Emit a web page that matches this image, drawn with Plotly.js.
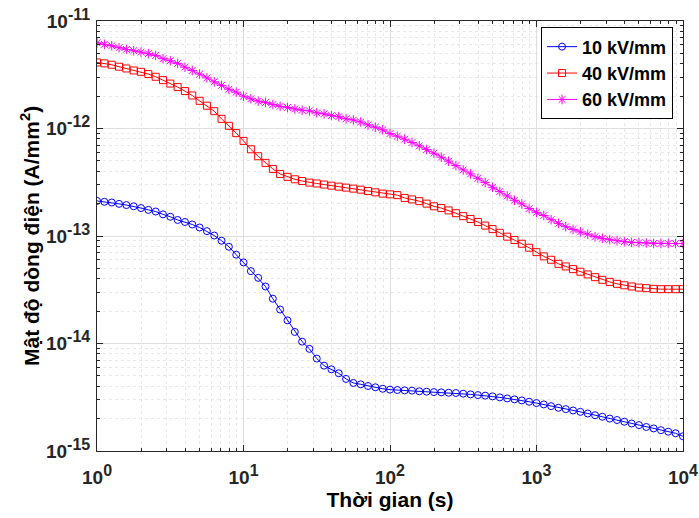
<!DOCTYPE html>
<html>
<head>
<meta charset="utf-8">
<script src="https://cdn.plot.ly/plotly-3.0.1.min.js"></script>
<style>html,body{margin:0;padding:0;background:#fff;}#chart{width:699px;height:518px;}</style>
</head>
<body>
<div id="chart"></div>
<script>
// Time (s), 20 samples per decade
const time = [
  1, 1.122, 1.259, 1.413, 1.585, 1.778, 1.995, 2.239, 2.512, 2.818,
  3.162, 3.548, 3.981, 4.467, 5.012, 5.623, 6.310, 7.079, 7.943, 8.913,
  10, 11.22, 12.59, 14.13, 15.85, 17.78, 19.95, 22.39, 25.12, 28.18,
  31.62, 35.48, 39.81, 44.67, 50.12, 56.23, 63.10, 70.79, 79.43, 89.13,
  100, 112.2, 125.9, 141.3, 158.5, 177.8, 199.5, 223.9, 251.2, 281.8,
  316.2, 354.8, 398.1, 446.7, 501.2, 562.3, 631.0, 707.9, 794.3, 891.3,
  1000, 1122, 1259, 1413, 1585, 1778, 1995, 2239, 2512, 2818,
  3162, 3548, 3981, 4467, 5012, 5623, 6310, 7079, 7943, 8913,
  10000
];

const j10 = [
  2.12e-13, 2.08e-13, 2.05e-13, 1.99e-13, 1.94e-13, 1.89e-13, 1.82e-13, 1.75e-13, 1.69e-13, 1.59e-13,
  1.51e-13, 1.41e-13, 1.35e-13, 1.28e-13, 1.20e-13, 1.11e-13, 1.01e-13, 9.04e-14, 7.94e-14, 6.70e-14,
  5.68e-14, 4.71e-14, 4.08e-14, 3.39e-14, 2.61e-14, 2.07e-14, 1.64e-14, 1.28e-14, 1.04e-14, 8.91e-15,
  7.24e-15, 6.22e-15, 5.75e-15, 5.28e-15, 4.68e-15, 4.29e-15, 4.17e-15, 4.02e-15, 3.91e-15, 3.79e-15,
  3.72e-15, 3.69e-15, 3.66e-15, 3.64e-15, 3.59e-15, 3.56e-15, 3.53e-15, 3.51e-15, 3.48e-15, 3.46e-15,
  3.41e-15, 3.36e-15, 3.31e-15, 3.27e-15, 3.22e-15, 3.15e-15, 3.08e-15, 3.02e-15, 2.95e-15, 2.87e-15,
  2.79e-15, 2.71e-15, 2.61e-15, 2.52e-15, 2.45e-15, 2.38e-15, 2.31e-15, 2.23e-15, 2.15e-15, 2.08e-15,
  2.00e-15, 1.94e-15, 1.87e-15, 1.80e-15, 1.74e-15, 1.67e-15, 1.62e-15, 1.56e-15, 1.51e-15, 1.46e-15,
  1.37e-15
];

const j40 = [
  4.12e-12, 4.04e-12, 3.92e-12, 3.76e-12, 3.62e-12, 3.47e-12, 3.37e-12, 3.21e-12, 3.03e-12, 2.82e-12,
  2.62e-12, 2.43e-12, 2.23e-12, 2.03e-12, 1.81e-12, 1.63e-12, 1.45e-12, 1.23e-12, 1.06e-12, 9.06e-13,
  7.67e-13, 6.41e-13, 5.52e-13, 4.79e-13, 4.21e-13, 3.78e-13, 3.55e-13, 3.37e-13, 3.25e-13, 3.14e-13,
  3.08e-13, 3.01e-13, 2.94e-13, 2.88e-13, 2.82e-13, 2.76e-13, 2.70e-13, 2.62e-13, 2.55e-13, 2.48e-13,
  2.44e-13, 2.40e-13, 2.26e-13, 2.19e-13, 2.11e-13, 2.00e-13, 1.89e-13, 1.82e-13, 1.73e-13, 1.63e-13,
  1.53e-13, 1.44e-13, 1.35e-13, 1.25e-13, 1.16e-13, 1.07e-13, 9.86e-14, 9.18e-14, 8.47e-14, 7.78e-14,
  7.08e-14, 6.46e-14, 6.01e-14, 5.51e-14, 5.21e-14, 4.92e-14, 4.65e-14, 4.39e-14, 4.14e-14, 3.91e-14,
  3.74e-14, 3.59e-14, 3.48e-14, 3.39e-14, 3.31e-14, 3.27e-14, 3.22e-14, 3.20e-14, 3.20e-14, 3.20e-14,
  3.20e-14
];

const j60 = [
  6.28e-12, 6.07e-12, 5.89e-12, 5.65e-12, 5.45e-12, 5.30e-12, 5.14e-12, 4.97e-12, 4.79e-12, 4.46e-12,
  4.27e-12, 4.04e-12, 3.72e-12, 3.47e-12, 3.21e-12, 2.96e-12, 2.72e-12, 2.52e-12, 2.32e-12, 2.18e-12,
  2.00e-12, 1.89e-12, 1.80e-12, 1.75e-12, 1.67e-12, 1.61e-12, 1.57e-12, 1.52e-12, 1.48e-12, 1.46e-12,
  1.40e-12, 1.37e-12, 1.32e-12, 1.29e-12, 1.23e-12, 1.20e-12, 1.15e-12, 1.08e-12, 1.03e-12, 9.73e-13,
  8.97e-13, 8.49e-13, 7.96e-13, 7.41e-13, 6.90e-13, 6.37e-13, 5.89e-13, 5.41e-13, 4.97e-13, 4.52e-13,
  4.12e-13, 3.78e-13, 3.44e-13, 3.14e-13, 2.84e-13, 2.59e-13, 2.36e-13, 2.15e-13, 1.99e-13, 1.80e-13,
  1.66e-13, 1.55e-13, 1.42e-13, 1.31e-13, 1.22e-13, 1.15e-13, 1.09e-13, 1.04e-13, 9.86e-14, 9.51e-14,
  9.25e-14, 9.04e-14, 8.85e-14, 8.73e-14, 8.67e-14, 8.61e-14, 8.53e-14, 8.52e-14, 8.52e-14, 8.51e-14,
  8.51e-14
];

const seriesNames = ['10 kV/mm', '40 kV/mm', '60 kV/mm'];
const seriesColors = ['#0000ff', '#ff0000', '#ff00ff'];
const seriesSymbols = ['circle-open', 'square-open', 'asterisk-open'];
const seriesData = [j10, j40, j60];

const xTickVals = [1, 10, 100, 1000, 10000];
const xTickExp = ['0', '1', '2', '3', '4'];
const yTickVals = [1e-15, 1e-14, 1e-13, 1e-12, 1e-11];
const yTickExp = ['-15', '-14', '-13', '-12', '-11'];
const xTitle = 'Thời gian (s)';
const yTitle = 'Mật độ dòng điện (A/mm<sup>2</sup>)';

const supLabel = e => '10<sup><span style="font-size:16px">' + e + '</span></sup>';

const traces = seriesData.map((y, i) => ({
  x: time, y: y, type: 'scatter', mode: 'lines+markers', name: seriesNames[i],
  line: {color: seriesColors[i], width: 1},
  marker: {symbol: seriesSymbols[i], size: i === 2 ? 8 : 7, color: seriesColors[i], line: {color: seriesColors[i], width: 1}}
}));

const FONT = 'Liberation Sans, Arial, sans-serif';

const axisCommon = {
  type: 'log', tickmode: 'array',
  showline: true, linecolor: '#262626', linewidth: 1, mirror: 'ticks',
  ticks: 'inside', ticklen: 6, tickcolor: '#262626',
  showgrid: true, gridcolor: '#dedede', gridwidth: 1, zeroline: false,
  automargin: false,
  tickfont: {family: FONT, size: 19, color: '#262626', weight: 'bold'},
  minor: {ticks: 'inside', ticklen: 3, tickcolor: '#262626', showgrid: true, gridcolor: '#e8e8e8', griddash: 'dot', dtick: 'D1'}
};

const layout = {
  width: 699, height: 518,
  margin: {l: 97, r: 16, t: 21, b: 67},
  paper_bgcolor: '#ffffff', plot_bgcolor: '#ffffff',
  showlegend: true,
  xaxis: Object.assign({}, axisCommon, {
    range: [-0.0005, 4.0005], tickvals: xTickVals, ticktext: xTickExp.map(supLabel),
    ticklabelstandoff: 9,
    title: {text: xTitle, standoff: 3, font: {family: FONT, size: 21, color: '#000', weight: 'bold'}}
  }),
  yaxis: Object.assign({}, axisCommon, {
    range: [-15.0005, -10.9995], tickvals: yTickVals, ticktext: yTickExp.map(supLabel),
    ticklabelstandoff: 2
  }),
  annotations: [{
    text: yTitle, xref: 'paper', yref: 'paper', x: -0.1143, y: 0.5,
    xanchor: 'center', yanchor: 'middle', textangle: -90, showarrow: false,
    font: {family: FONT, size: 21, color: '#000', weight: 'bold'}
  }],
  legend: {
    x: 0.983, y: 0.985, xanchor: 'right', yanchor: 'top',
    bgcolor: '#ffffff', bordercolor: '#000000', borderwidth: 1,
    font: {family: FONT, size: 18, color: '#000', weight: 'bold'},
    tracegroupgap: 0, itemwidth: 30
  }
};

Plotly.newPlot('chart', traces, layout, {displayModeBar: false, staticPlot: true});
</script>
</body>
</html>
